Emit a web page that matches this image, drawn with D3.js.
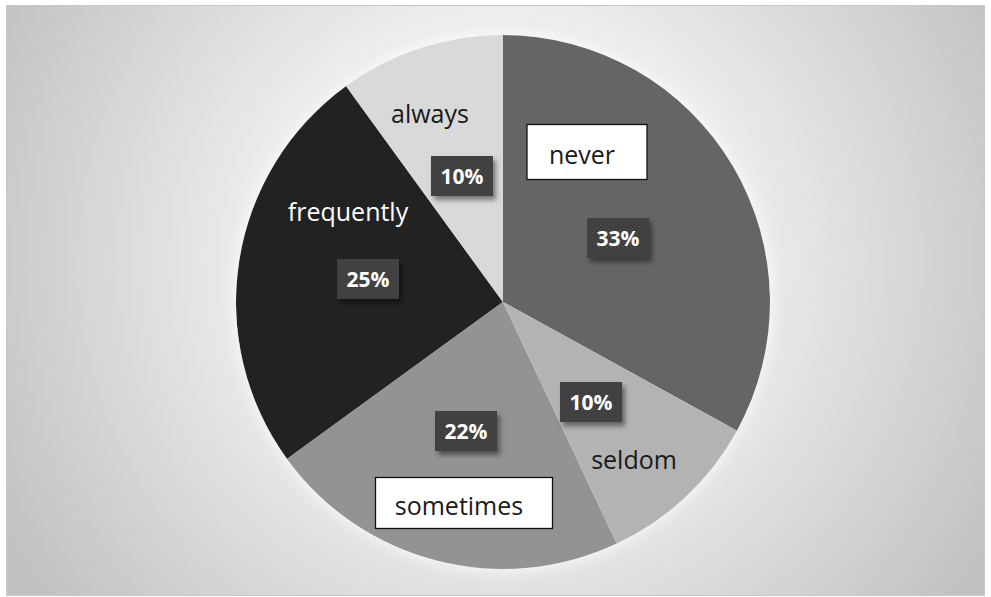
<!DOCTYPE html>
<html>
<head>
<meta charset="utf-8">
<script src="https://cdn.jsdelivr.net/npm/d3@7"></script>
<style>
  html, body { margin: 0; padding: 0; background: #ffffff; }
  svg { display: block; }
</style>
</head>
<body>
<svg id="chart" width="991" height="597"></svg>
<script>
// Answer categories and their shares (%)
const categories = ["never", "seldom", "sometimes", "frequently", "always"];
const shares = [33, 10, 22, 25, 10];
const sliceColors = ["#656565", "#b3b3b3", "#939393", "#222222", "#d9d9d9"];

// Where each category name and percentage label sits (offset from pie centre)
const nameOffsets = [[84, -150], [131, 155], [-39, 201], [-155, -93], [-73, -191]];
const pctOffsets  = [[115, -64], [88, 100], [-37, 129], [-135, -23], [-41, -126]];
const boxedNames = ["never", "sometimes"];

const svg = d3.select("#chart");
const defs = svg.append("defs");

// Plot-area background
const bg = defs.append("radialGradient").attr("id", "bgGrad")
  .attr("gradientUnits", "userSpaceOnUse")
  .attr("cx", 500).attr("cy", 260).attr("r", 560);
bg.append("stop").attr("offset", "0%").attr("stop-color", "#ffffff");
bg.append("stop").attr("offset", "45%").attr("stop-color", "#ececec");
bg.append("stop").attr("offset", "100%").attr("stop-color", "#c2c2c2");

const shadow = defs.append("filter").attr("id", "lblShadow")
  .attr("x", "-30%").attr("y", "-30%").attr("width", "170%").attr("height", "180%");
shadow.append("feDropShadow").attr("dx", 3).attr("dy", 4).attr("stdDeviation", 2.5)
  .attr("flood-color", "#000").attr("flood-opacity", 0.45);

const glow = defs.append("filter").attr("id", "pieGlow")
  .attr("x", "-20%").attr("y", "-20%").attr("width", "140%").attr("height", "140%");
glow.append("feDropShadow").attr("dx", 0).attr("dy", 0).attr("stdDeviation", 8)
  .attr("flood-color", "#ffffff").attr("flood-opacity", 0.9);

// dotted texture used on the percentage labels
const pat = defs.append("pattern").attr("id", "dots")
  .attr("width", 4).attr("height", 4).attr("patternUnits", "userSpaceOnUse");
pat.append("rect").attr("width", 4).attr("height", 4).attr("fill", "#3e3e3e");
pat.append("circle").attr("cx", 1).attr("cy", 1).attr("r", 0.8).attr("fill", "#4c4c4c");
pat.append("circle").attr("cx", 3).attr("cy", 3).attr("r", 0.8).attr("fill", "#4c4c4c");

svg.append("rect").attr("x", 6.5).attr("y", 5.5).attr("width", 978).attr("height", 590)
  .attr("fill", "url(#bgGrad)").attr("stroke", "#c8c8c8").attr("stroke-width", 1);

const cx = 503, cy = 302, R = 267;
const g = svg.append("g").attr("transform", `translate(${cx},${cy})`);

const pie = d3.pie().sort(null).value(d => d.value);
const arc = d3.arc().innerRadius(0).outerRadius(R);
const data = categories.map((c, i) => ({ name: c, value: shares[i], color: sliceColors[i], i }));
const arcs = pie(data);

g.append("g").attr("filter", "url(#pieGlow)")
  .selectAll("path").data(arcs).join("path")
  .attr("d", arc)
  .attr("fill", d => d.data.color);

const fontFam = "'Open Sans', 'Noto Sans', sans-serif";

// category names (two of them sit in white boxes)
arcs.forEach(a => {
  const [dx, dy] = nameOffsets[a.data.i];
  const boxed = boxedNames.includes(a.data.name);
  const grp = g.append("g").attr("transform", `translate(${dx},${dy})`);
  grp.append("text")
    .attr("text-anchor", "middle").attr("dominant-baseline", "central")
    .attr("x", boxed ? -5 : 0).attr("y", 2)
    .attr("font-family", fontFam).attr("font-size", 25)
    .attr("fill", a.data.name === "frequently" ? "#ffffff" : "#1a1a1a")
    .text(a.data.name);
  if (boxed) {
    const bw = a.data.name === "never" ? 120 : 177;
    const bh = a.data.name === "never" ? 55 : 51;
    grp.insert("rect", "text")
      .attr("x", -bw / 2).attr("y", -bh / 2)
      .attr("width", bw).attr("height", bh)
      .attr("fill", "#ffffff").attr("stroke", "#111").attr("stroke-width", 1.3);
  }
});

// percentage labels
arcs.forEach(a => {
  const [dx, dy] = pctOffsets[a.data.i];
  const grp = g.append("g").attr("transform", `translate(${dx},${dy})`);
  grp.append("rect").attr("x", -31).attr("y", -20).attr("width", 62).attr("height", 40)
    .attr("fill", "url(#dots)").attr("filter", "url(#lblShadow)");
  grp.append("text")
    .attr("text-anchor", "middle").attr("dominant-baseline", "central")
    .attr("font-family", fontFam).attr("font-weight", "bold").attr("font-size", 21)
    .attr("fill", "#ffffff")
    .text(a.data.value + "%");
});
</script>
</body>
</html>
